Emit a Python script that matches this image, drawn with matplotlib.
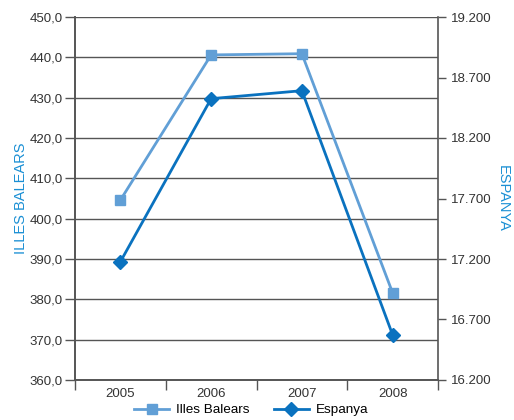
import matplotlib.pyplot as plt
import numpy as np

plt.rcParams['font.family'] = ['Liberation Sans', 'DejaVu Sans']

years = ['2005', '2006', '2007', '2008']
illes = [404.6, 440.6, 440.9, 381.6]
espanya = [17177, 18525, 18591, 16573]

left_ticks = np.arange(360, 451, 10)
right_ticks = np.arange(16200, 19201, 500)

c_illes = '#619fd6'
c_esp = '#0a72bf'
c_lab = '#1a8fd4'
c_axis = '#555555'

fig = plt.figure(figsize=(5.14, 4.2), dpi=100)
ax = fig.add_axes([75 / 514, 1 - 380 / 420, 363 / 514, 363 / 420])
ax2 = ax.twinx()

x = np.arange(len(years))
ax.plot(x, illes, color=c_illes, lw=2, marker='s', ms=7, label='Illes Balears', zorder=3)
ax2.plot(x, espanya, color=c_esp, lw=2, marker='D', ms=7, label='Espanya', zorder=3)

ax.set_xlim(-0.5, 3.5)
ax.set_ylim(360, 450)
ax2.set_ylim(16200, 19200)
ax.set_yticks(left_ticks)
ax.set_yticklabels([f'{v:.1f}'.replace('.', ',') for v in left_ticks])
ax2.set_yticks(right_ticks)
ax2.set_yticklabels([f'{v // 1000}.{v % 1000:03d}' for v in right_ticks])

ax.set_xticks(x)
ax.set_xticklabels(years)
ax.set_xticks(np.arange(-0.5, 4, 1), minor=True)
ax.tick_params(axis='x', which='major', length=0, pad=6, labelsize=9.5, colors='#333333')
ax.tick_params(axis='x', which='minor', length=7, width=1, color=c_axis)

for yv in left_ticks:
    ax.axhline(yv, color='#555555', lw=1, zorder=1)

ax.tick_params(axis='y', length=7, width=1, color=c_axis, labelsize=9.5, labelcolor='#333333', pad=2)
ax2.tick_params(axis='y', length=6, width=1, color=c_axis, labelsize=9.5, labelcolor='#333333', pad=3)

for a in (ax, ax2):
    a.spines['top'].set_visible(False)
    for s in ('left', 'right', 'bottom'):
        a.spines[s].set_color(c_axis)
        a.spines[s].set_linewidth(1.2)
ax.spines['right'].set_visible(False)

ax.set_ylabel('ILLES BALEARS', color=c_lab, fontsize=10.5)
ax.yaxis.set_label_coords(-47 / 363, 0.5)
ax2.set_ylabel('ESPANYA', color=c_lab, fontsize=10.5, rotation=-90)
ax2.yaxis.set_label_coords(1 + 72 / 363, 0.5)

h1, l1 = ax.get_legend_handles_labels()
h2, l2 = ax2.get_legend_handles_labels()
fig.legend(h1 + h2, l1 + l2, loc='center', bbox_to_anchor=(251 / 514, 1 - 410 / 420),
           ncol=2, frameon=False, fontsize=9.7, handlelength=2.6, columnspacing=1.8,
           handletextpad=0.5)

fig.savefig('out.png', dpi=100)
